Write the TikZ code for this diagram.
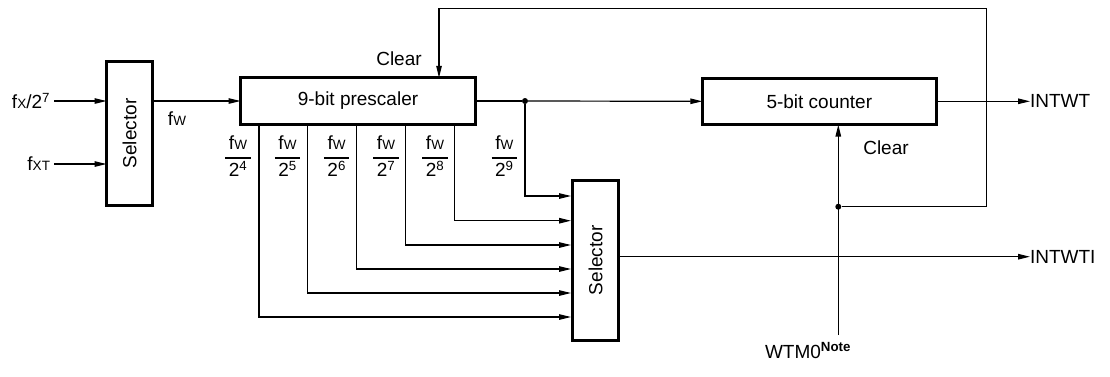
\documentclass[tikz,border=0pt]{standalone}
\usepackage{fontspec}
\setmainfont{Liberation Sans}
\usetikzlibrary{arrows.meta,calc}
\newcommand\subsc[1]{{\fontsize{13.5}{14}\selectfont #1}}
\newcommand\fwfrac[1]{\setlength{\arrayrulewidth}{1.2pt}\renewcommand\arraystretch{1.12}\begin{tabular}{@{\hspace{3.5pt}}c@{\hspace{3.5pt}}}f\subsc{W}\\\hline 2\textsuperscript{#1}\end{tabular}}
\begin{document}
\begin{tikzpicture}[x=1pt,y=-1pt,
  font=\fontsize{19}{23}\selectfont,
  blk/.style={draw,line width=3pt,inner sep=0pt,outer sep=0pt},
  wire/.style={line width=1.2pt},
  arr/.style={wire,-{Triangle[length=12pt,width=5.5pt]}},
  lbl/.style={inner sep=0pt,outer sep=0pt},
  dot/.style={circle,fill,inner sep=0pt,minimum size=6pt}]
\useasboundingbox (0,0) rectangle (1110,376);
% blocks
\node[blk,minimum width=46pt,minimum height=144pt] (sel1) at (129.5,133.5) {\rotatebox{90}{Selector}};
\node[blk,minimum width=235pt,minimum height=46.5pt] (pre) at (358,101) {9-bit prescaler};
\node[blk,minimum width=234pt,minimum height=46.5pt] (cnt) at (819.3,101.3) {5-bit counter};
\node[blk,minimum width=46pt,minimum height=160pt] (sel2) at (595.5,260.3) {\rotatebox{90}{Selector}};
% input labels
\node[lbl,anchor=east] (fx) at (50,101) {f\subsc{X}/2\textsuperscript{7}};
\node[lbl,anchor=east] (fxt) at (50,164) {f\subsc{XT}};
\coordinate (fxs) at (54,101);
\coordinate (fxts) at (54,164);
\draw[arr] (fxs) -- (fxs -| sel1.west);
\draw[arr] (fxts) -- (fxts -| sel1.west);
% fw
\node[lbl] (fw) at (177,119) {f\subsc{W}};
\draw[arr] (sel1.east |- pre.west) -- (pre.west);
% junction and counter input
\node[dot] (j1) at (525,101) {};
\draw[wire] (pre.east) -- (j1);
\draw[arr] (j1) -- (cnt.west);
% taps
\coordinate (t4) at (259,125);
\coordinate (t5) at (307.7,125);
\coordinate (t6) at (356.7,125);
\coordinate (t7) at (405.7,125);
\coordinate (t8) at (454.7,125);
\draw[arr] (j1) |- (571,196);
\draw[arr] (t8) |- (571,220.7);
\draw[arr] (t7) |- (571,245);
\draw[arr] (t6) |- (571,269);
\draw[arr] (t5) |- (571,293);
\draw[arr] (t4) |- (571,317);
% fraction labels
\node[lbl] (q4) at (238,158) {\fwfrac{4}};
\node[lbl] (q5) at (287.5,158) {\fwfrac{5}};
\node[lbl] (q6) at (336.7,158) {\fwfrac{6}};
\node[lbl] (q7) at (386,158) {\fwfrac{7}};
\node[lbl] (q8) at (435,158) {\fwfrac{8}};
\node[lbl] (q9) at (504.3,158) {\fwfrac{9}};
% outputs
\node[lbl,anchor=west] (intwt) at (1030,101.3) {INTWT};
\node[lbl,anchor=west] (intwti) at (1030,256.7) {INTWTI};
\draw[arr] (cnt.east) -- (intwt.west);
\draw[arr] (sel2.east |- intwti.west) -- (intwti.west);
% clear of counter
\coordinate (wtm) at (838.3,335);
\node[lbl,anchor=base] (wtmlbl) at (808,358) {WTM0\textsuperscript{\bfseries Note}};
\draw[arr] (wtm) -- (wtm |- cnt.south);
\node[dot] (j2) at (838.3,206.7) {};
\node[lbl] (clr2) at (886,148) {Clear};
% feedback to prescaler clear
\coordinate (fb1) at (986.7,206.7);
\coordinate (fb2) at (986.7,8.3);
\coordinate (fb3) at (439,8.3);
\draw[arr] (j2) -- (fb1) -- (fb2) -- (fb3) -- (fb3 |- pre.north);
\node[lbl] (clr1) at (399,59) {Clear};
\end{tikzpicture}
\end{document}
